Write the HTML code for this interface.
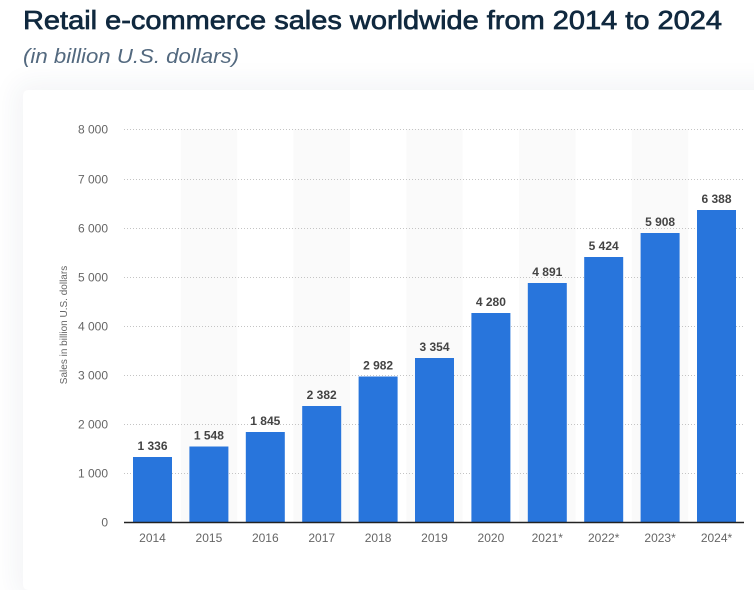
<!DOCTYPE html>
<html><head><meta charset="utf-8"><style>
html,body{margin:0;padding:0;background:#fff;}
body{width:754px;height:558px;overflow:hidden;position:relative;font-family:"Liberation Sans",sans-serif;}
.card{position:absolute;left:23px;top:90px;width:760px;height:500px;background:#fff;border-radius:5px;box-shadow:0 0 26px 8px rgba(40,60,90,0.055);}
svg{position:absolute;left:0;top:0;}
</style></head><body>
<div class="card"></div>
<svg width="754" height="558" viewBox="0 0 754 558" xmlns="http://www.w3.org/2000/svg" font-family="Liberation Sans, sans-serif">
<text x="23" y="29" font-size="26" fill="#10293f" stroke="#10293f" stroke-width="0.7" textLength="699" lengthAdjust="spacingAndGlyphs">Retail e-commerce sales worldwide from 2014 to 2024</text>
<text x="23" y="63" font-size="20" font-style="italic" fill="#53697f" textLength="216" lengthAdjust="spacingAndGlyphs">(in billion U.S. dollars)</text>
<g fill="#fafafa">
<rect x="180.7" y="129" width="56.4" height="393"/>
<rect x="293.5" y="129" width="56.4" height="393"/>
<rect x="406.3" y="129" width="56.4" height="393"/>
<rect x="519.1" y="129" width="56.4" height="393"/>
<rect x="631.9" y="129" width="56.4" height="393"/>
</g>
<g stroke="#c4c4c4" stroke-width="1" stroke-dasharray="1 2">
<line x1="124" x2="744" y1="129.5" y2="129.5"/>
<line x1="124" x2="744" y1="179.5" y2="179.5"/>
<line x1="124" x2="744" y1="228.5" y2="228.5"/>
<line x1="124" x2="744" y1="277.5" y2="277.5"/>
<line x1="124" x2="744" y1="326.5" y2="326.5"/>
<line x1="124" x2="744" y1="375.5" y2="375.5"/>
<line x1="124" x2="744" y1="424.5" y2="424.5"/>
<line x1="124" x2="744" y1="473.5" y2="473.5"/>
</g>
<g fill="#666" font-size="12" text-anchor="end">
<text x="108" y="133.5">8 000</text>
<text x="108" y="183.5">7 000</text>
<text x="108" y="232.5">6 000</text>
<text x="108" y="281.5">5 000</text>
<text x="108" y="330.5">4 000</text>
<text x="108" y="379.5">3 000</text>
<text x="108" y="428.5">2 000</text>
<text x="108" y="477.5">1 000</text>
<text x="108" y="526.5">0</text>
</g>
<text transform="translate(67,325) rotate(-90)" font-size="10" fill="#666" text-anchor="middle">Sales in billion U.S. dollars</text>
<g fill="#2875dc">
<rect x="133" y="457" width="39" height="65"/>
<rect x="189.4" y="446.5" width="39" height="75.5"/>
<rect x="245.8" y="432" width="39" height="90"/>
<rect x="302.2" y="406" width="39" height="116"/>
<rect x="358.6" y="376.5" width="39" height="145.5"/>
<rect x="415" y="358" width="39" height="164"/>
<rect x="471.4" y="313" width="39" height="209"/>
<rect x="527.8" y="283" width="39" height="239"/>
<rect x="584.2" y="257" width="39" height="265"/>
<rect x="640.6" y="233" width="39" height="289"/>
<rect x="697" y="210" width="39" height="312"/>
</g>
<line x1="124" x2="744" y1="522.5" y2="522.5" stroke="#222" stroke-width="1.5"/>
<g fill="#444" font-size="12" font-weight="bold" text-anchor="middle">
<text x="152.5" y="450">1 336</text>
<text x="208.9" y="439.5">1 548</text>
<text x="265.3" y="425">1 845</text>
<text x="321.7" y="399">2 382</text>
<text x="378.1" y="369.5">2 982</text>
<text x="434.5" y="351">3 354</text>
<text x="490.9" y="306">4 280</text>
<text x="547.3" y="276">4 891</text>
<text x="603.7" y="250">5 424</text>
<text x="660.1" y="226">5 908</text>
<text x="716.5" y="203">6 388</text>
</g>
<g fill="#666" font-size="12" text-anchor="middle">
<text x="152.5" y="542">2014</text>
<text x="208.9" y="542">2015</text>
<text x="265.3" y="542">2016</text>
<text x="321.7" y="542">2017</text>
<text x="378.1" y="542">2018</text>
<text x="434.5" y="542">2019</text>
<text x="490.9" y="542">2020</text>
<text x="547.3" y="542">2021*</text>
<text x="603.7" y="542">2022*</text>
<text x="660.1" y="542">2023*</text>
<text x="716.5" y="542">2024*</text>
</g>
</svg>
</body></html>
